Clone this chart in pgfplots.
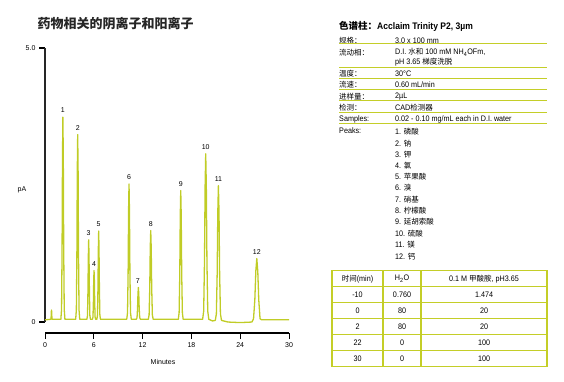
\documentclass[border=0pt]{standalone}
\usepackage{pgfplots}
\pgfplotsset{compat=1.18}
\usepackage{fontspec}
\setmainfont{Liberation Sans}
\newfontfamily\cond{Liberation Sans}[FakeStretch=0.9]
\newfontfamily\cjk{Noto Sans CJK SC}
\definecolor{chrom}{RGB}{192,204,38}
\definecolor{tline}{RGB}{196,206,40}
\begin{document}
\begin{tikzpicture}
\begin{scope}[x=1pt,y=-1pt]
\path (0,0) rectangle (564,382);
% title
\node[anchor=west, font={\cjk\bfseries\fontsize{13}{15}\selectfont}, text=black!85] at (34,24) {药物相关的阴离子和阳离子};
% axis labels
\node[font=\fontsize{7}{8}\selectfont] at (22,190) {pA};
\node[font=\fontsize{7}{8}\selectfont] at (163,362) {Minutes};
% right header
\node[anchor=west, inner sep=0pt] at (339,26) {{\cjk\bfseries\fontsize{9.5}{10}\selectfont 色谱柱：}{\cond\bfseries\fontsize{9.5}{10}\selectfont Acclaim Trinity P2, 3µm}};
\begin{scope}[every node/.style={anchor=west, inner sep=0pt, font={\cond\fontsize{8}{9}\selectfont}}]
\node at (339,40.3) {\cjk\fontsize{7.5}{8}\selectfont 规格：};
\node at (395,40.3) {3.0 x 100 mm};
\node at (339,52.3) {\cjk\fontsize{7.5}{8}\selectfont 流动相：};
\node at (395,52.3) {D.I. {\cjk\fontsize{7.5}{8}\selectfont 水和} 100 mM NH\textsubscript{4}OFm,};
\node at (395,62.3) {pH 3.65 {\cjk\fontsize{7.5}{8}\selectfont 梯度洗脱}};
\node at (339,73.3) {\cjk\fontsize{7.5}{8}\selectfont 温度：};
\node at (395,73.3) {30°C};
\node at (339,85) {\cjk\fontsize{7.5}{8}\selectfont 流速：};
\node at (395,85) {0.60 mL/min};
\node at (339,96.7) {\cjk\fontsize{7.5}{8}\selectfont 进样量：};
\node at (395,96.7) {2µL};
\node at (339,107.3) {\cjk\fontsize{7.5}{8}\selectfont 检测：};
\node at (395,107.3) {CAD{\cjk\fontsize{7.5}{8}\selectfont 检测器}};
\node at (339,119.3) {Samples:};
\node at (395,119.3) {0.02 - 0.10 mg/mL each in D.I. water};
\node at (339,131) {Peaks:};
\node at (395,131.5) {1. {\cjk\fontsize{7.5}{8}\selectfont 磷酸}};
\node at (395,143.3) {2. {\cjk\fontsize{7.5}{8}\selectfont 钠}};
\node at (395,154.5) {3. {\cjk\fontsize{7.5}{8}\selectfont 钾}};
\node at (395,165.5) {4. {\cjk\fontsize{7.5}{8}\selectfont 氯}};
\node at (395,176.7) {5. {\cjk\fontsize{7.5}{8}\selectfont 苹果酸}};
\node at (395,187.8) {6. {\cjk\fontsize{7.5}{8}\selectfont 溴}};
\node at (395,199.3) {7. {\cjk\fontsize{7.5}{8}\selectfont 硝基}};
\node at (395,210.7) {8. {\cjk\fontsize{7.5}{8}\selectfont 柠檬酸}};
\node at (395,221.8) {9. {\cjk\fontsize{7.5}{8}\selectfont 延胡索酸}};
\node at (395,233.3) {10. {\cjk\fontsize{7.5}{8}\selectfont 硫酸}};
\node at (395,245) {11. {\cjk\fontsize{7.5}{8}\selectfont 镁}};
\node at (395,256.7) {12. {\cjk\fontsize{7.5}{8}\selectfont 钙}};
\end{scope}
\foreach \yy in {44,67.3,78.3,89.3,100.7,112.3,124} {
  \draw[tline, line width=1pt] (339,\yy) -- (547,\yy);
}
% gradient table
\draw[tline, line width=1.2pt] (332,270.7) rectangle (547,366.7);
\foreach \yy in {286.7,302.7,318.7,334.7,350.7} {
  \draw[tline, line width=1.2pt] (332,\yy) -- (547,\yy);
}
\draw[tline, line width=1.2pt] (383,270.7) -- (383,366.7);
\draw[tline, line width=1.2pt] (421,270.7) -- (421,366.7);
\begin{scope}[every node/.style={inner sep=0pt, font={\cond\fontsize{8}{9}\selectfont}}]
\node at (357.5,278.7) {{\cjk\fontsize{7.5}{8}\selectfont 时间}(min)};
\node at (402,278.7) {H\textsubscript{2}O};
\node at (484,278.7) {0.1 M {\cjk\fontsize{7.5}{8}\selectfont 甲酸胺}, pH3.65};
\node at (357.5,294.7) {-10}; \node at (402,294.7) {0.760}; \node at (484,294.7) {1.474};
\node at (357.5,310.7) {0};   \node at (402,310.7) {80};    \node at (484,310.7) {20};
\node at (357.5,326.7) {2};   \node at (402,326.7) {80};    \node at (484,326.7) {20};
\node at (357.5,342.7) {22};  \node at (402,342.7) {0};     \node at (484,342.7) {100};
\node at (357.5,358.7) {30};  \node at (402,358.7) {0};     \node at (484,358.7) {100};
\end{scope}
\end{scope}
\begin{axis}[
  at={(45pt,-333pt)}, anchor=south west,
  scale only axis, width=244pt, height=285pt,
  xmin=0, xmax=30, ymin=-0.2, ymax=5,
  axis x line*=bottom, axis y line*=left,
  x axis line style={-, line width=1.2pt},
  y axis line style={draw=none},
  xtick={0,6,12,18,24,30},
  ytick={0,5}, yticklabels={0,5.0},
  tick align=outside, major tick length=6pt,
  xtick style={black, line width=0.7pt},
  ytick style={black, line width=1.6pt},
  tick label style={font=\fontsize{7}{8}\selectfont},
  /pgf/number format/assume math mode=true,
  clip=false,
]
\draw[black!85, line width=1.2pt] (axis cs:0,0) -- (axis cs:0,5);
\addplot[chrom, line width=1.3pt, line join=round] coordinates {
(0,0.04) (0.7,0.05) (0.74,0.06) (0.76,0.11) (0.78,0.19) (0.8,0.22) (0.82,0.19) (0.84,0.11) (0.86,0.06) (0.9,0.05)
(1.95,0.05) (2.035,0.23) (2.10,1.34) (2.15,3.00) (2.20,3.74) (2.25,3.00) (2.30,1.34) (2.365,0.23) (2.45,0.05)
(3.77,0.05) (3.855,0.22) (3.92,1.23) (3.97,2.75) (4.02,3.42) (4.07,2.75) (4.12,1.23) (4.185,0.22) (4.27,0.05)
(5.15,0.05) (5.225,0.12) (5.28,0.56) (5.33,1.21) (5.37,1.50) (5.41,1.21) (5.46,0.56) (5.515,0.12) (5.59,0.05)
(5.83,0.05) (5.90,0.09) (5.95,0.36) (5.99,0.76) (6.03,0.94) (6.07,0.76) (6.11,0.36) (6.16,0.09) (6.23,0.05)
(6.38,0.05) (6.455,0.13) (6.51,0.61) (6.56,1.34) (6.60,1.66) (6.64,1.34) (6.69,0.61) (6.745,0.13) (6.82,0.05)
(10.05,0.05) (10.145,0.17) (10.22,0.91) (10.275,2.03) (10.33,2.52) (10.385,2.03) (10.44,0.91) (10.515,0.17) (10.61,0.05)
(11.23,0.05) (11.315,0.08) (11.38,0.25) (11.43,0.51) (11.48,0.63) (11.53,0.51) (11.58,0.25) (11.645,0.08) (11.73,0.05)
(12.7,0.05) (12.8,0.13) (12.88,0.62) (12.94,1.35) (13.0,1.67) (13.06,1.35) (13.12,0.62) (13.2,0.13) (13.3,0.05)
(16.39,0.05) (16.49,0.17) (16.57,0.87) (16.63,1.93) (16.69,2.40) (16.75,1.93) (16.81,0.87) (16.89,0.17) (16.99,0.05)
(19.38,0.05) (19.51,0.20) (19.61,1.11) (19.685,2.47) (19.76,3.07) (19.835,2.47) (19.91,1.11) (20.01,0.20) (20.14,0.05) (20.6,0.02)
(20.94,0.03) (21.07,0.15) (21.17,0.89) (21.245,2.00) (21.32,2.49) (21.395,2.00) (21.47,0.89) (21.57,0.15) (21.7,0.03)
(22.5,0.0) (24,-0.01) (25.44,0.0)
(25.64,0.06) (25.8,0.41) (25.92,0.93) (26.04,1.16) (26.16,0.93) (26.28,0.41) (26.44,0.06) (26.64,0.04)
(28,0.04) (30,0.04)
};
\begin{scope}[every node/.style={anchor=south, yshift=3pt, inner sep=1pt, font=\fontsize{7}{8}\selectfont}]
\node at (axis cs:2.2,3.74) {1};
\node at (axis cs:4.02,3.42) {2};
\node at (axis cs:5.37,1.50) {3};
\node at (axis cs:6.03,0.94) {4};
\node at (axis cs:6.6,1.66) {5};
\node at (axis cs:10.33,2.52) {6};
\node at (axis cs:11.4,0.63) {7};
\node at (axis cs:13.0,1.67) {8};
\node at (axis cs:16.69,2.40) {9};
\node at (axis cs:19.76,3.07) {10};
\node at (axis cs:21.32,2.49) {11};
\node at (axis cs:26.04,1.16) {12};
\end{scope}
\end{axis}
\end{tikzpicture}
\end{document}
